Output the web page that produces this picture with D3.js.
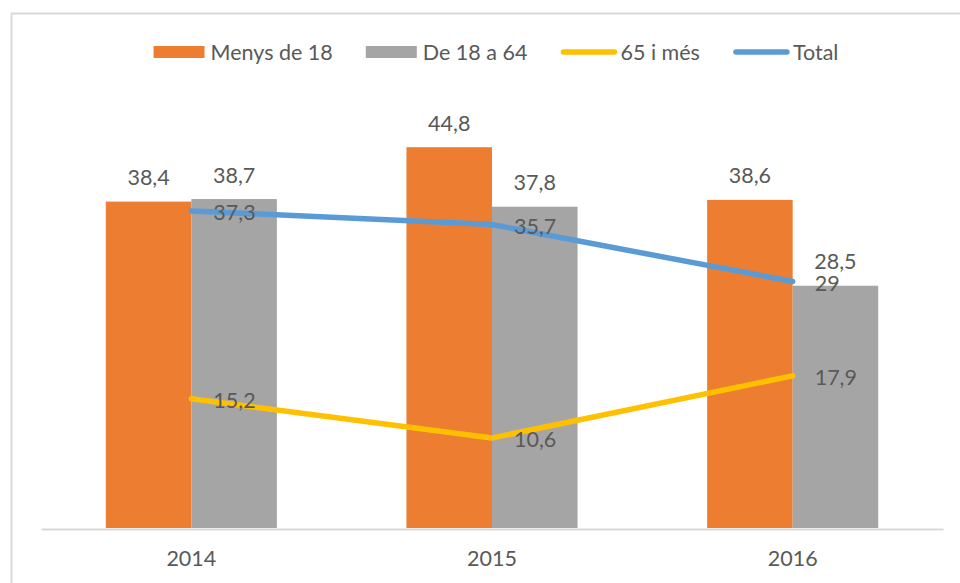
<!DOCTYPE html>
<html>
<head>
<meta charset="utf-8">
<script src="https://cdn.jsdelivr.net/npm/d3@7"></script>
<style>
  body { margin: 0; background: #fff; }
  svg { display: block; font-family: Lato, "Open Sans", sans-serif; }
</style>
</head>
<body>
<script>
// data
var years = ["2014", "2015", "2016"];
var barSeries = ["Menys de 18", "De 18 a 64"];
var lineSeries = ["65 i més", "Total"];
var menys18 = [38.4, 44.8, 38.6];
var de18a64 = [38.7, 37.8, 28.5];
var mes65 = [15.2, 10.6, 17.9];
var total = [37.3, 35.7, 29];

var colors = {
    "Menys de 18": "#ed7d31",
    "De 18 a 64": "#a5a5a5",
    "65 i més": "#ffc000",
    "Total": "#5b9bd5"
};

var width = 960, height = 583;
var textColor = "#595959";
var fontSize = 21.5;

// plot frame
var left = 41, right = 943, baseY = 528, topY = 103;

var svg = d3.select("body").append("svg")
    .attr("width", width)
    .attr("height", height);

// chart border
svg.append("rect")
    .attr("x", 11.5).attr("y", 13.5)
    .attr("width", 960).attr("height", 600)
    .attr("fill", "#fff")
    .attr("stroke", "#d9d9d9")
    .attr("stroke-width", 2);

var x0 = d3.scaleBand()
    .domain(years)
    .range([left, right])
    .padding(0);

var groupWidth = x0.bandwidth() * 0.569;

var x1 = d3.scaleBand()
    .domain(barSeries)
    .range([(x0.bandwidth() - groupWidth) / 2, (x0.bandwidth() + groupWidth) / 2]);

var y = d3.scaleLinear()
    .domain([0, 50])
    .range([baseY, topY]);

// build rows for bars
var barData = [];
years.forEach(function(yr, i){
    barData.push({year: yr, series: "Menys de 18", value: menys18[i]});
    barData.push({year: yr, series: "De 18 a 64", value: de18a64[i]});
});

// bars
svg.selectAll(".bar")
    .data(barData)
    .enter()
    .append("rect")
    .attr("class", "bar")
    .attr("x", function(d){ return x0(d.year) + x1(d.series); })
    .attr("y", function(d){ return y(d.value); })
    .attr("width", x1.bandwidth())
    .attr("height", function(d){ return baseY - y(d.value); })
    .attr("fill", function(d){ return colors[d.series]; });

// x axis
var xAxis = d3.axisBottom(x0).tickSize(0).tickPadding(22);
var gx = svg.append("g")
    .attr("transform", "translate(0," + (baseY + 1) + ")")
    .call(xAxis);
gx.select(".domain").attr("stroke", "#d9d9d9").attr("stroke-width", 2);
gx.selectAll("text")
    .attr("fill", textColor)
    .style("font-size", fontSize + "px")
    .style("font-family", "Lato, 'Open Sans', sans-serif");

// lines
var cx = function(i){ return x0(years[i]) + x0.bandwidth() / 2; };
var line = d3.line()
    .x(function(d, i){ return cx(i); })
    .y(function(d){ return y(d); });

var lineData = [
    {name: "65 i més", values: mes65},
    {name: "Total", values: total}
];

svg.selectAll(".line")
    .data(lineData)
    .enter()
    .append("path")
    .attr("class", "line")
    .attr("d", function(d){ return line(d.values); })
    .attr("fill", "none")
    .attr("stroke", function(d){ return colors[d.name]; })
    .attr("stroke-width", 5.5)
    .attr("stroke-linecap", "round")
    .attr("stroke-linejoin", "round");

var fmt = function(v){ return String(v).replace(".", ","); };

// bar labels
svg.selectAll(".barLabel")
    .data(barData)
    .enter()
    .append("text")
    .attr("class", "barLabel")
    .attr("x", function(d){ return x0(d.year) + x1(d.series) + x1.bandwidth() / 2; })
    .attr("y", function(d){ return y(d.value) - 16.5; })
    .attr("text-anchor", "middle")
    .attr("fill", textColor)
    .style("font-size", fontSize + "px")
    .text(function(d){ return fmt(d.value); });

// line labels (right of point)
lineData.forEach(function(s){
    svg.selectAll(".lineLabel-" + s.name.replace(/\W/g, ""))
        .data(s.values)
        .enter()
        .append("text")
        .attr("x", function(d, i){ return cx(i) + 22; })
        .attr("y", function(d){ return y(d) + 1.5; })
        .attr("dy", "0.35em")
        .attr("fill", textColor)
        .style("font-size", fontSize + "px")
        .text(function(d){ return fmt(d); });
});

// legend
var allSeries = barSeries.concat(lineSeries);
var legend = svg.append("g").attr("class", "legend");
var lx = 0;
allSeries.forEach(function(name, i){
    var item = legend.append("g").attr("transform", "translate(" + lx + ",0)");
    var isLine = lineSeries.indexOf(name) >= 0;
    if (isLine) {
        item.append("line")
            .attr("x1", 3).attr("x2", 54)
            .attr("y1", 52).attr("y2", 52)
            .attr("stroke", colors[name])
            .attr("stroke-width", 5.5)
            .attr("stroke-linecap", "round");
    } else {
        item.append("rect")
            .attr("x", 0).attr("y", 46)
            .attr("width", 51).attr("height", 12)
            .attr("fill", colors[name]);
    }
    var t = item.append("text")
        .attr("x", isLine ? 60 : 57)
        .attr("y", 52)
        .attr("dy", "0.35em")
        .attr("fill", textColor)
        .style("font-size", fontSize + "px")
        .text(name);
    lx += (isLine ? 60 : 57) + t.node().getComputedTextLength() + 33;
});
lx -= 33;
legend.attr("transform", "translate(" + (496 - lx / 2) + ",0)");
</script>
</body>
</html>
